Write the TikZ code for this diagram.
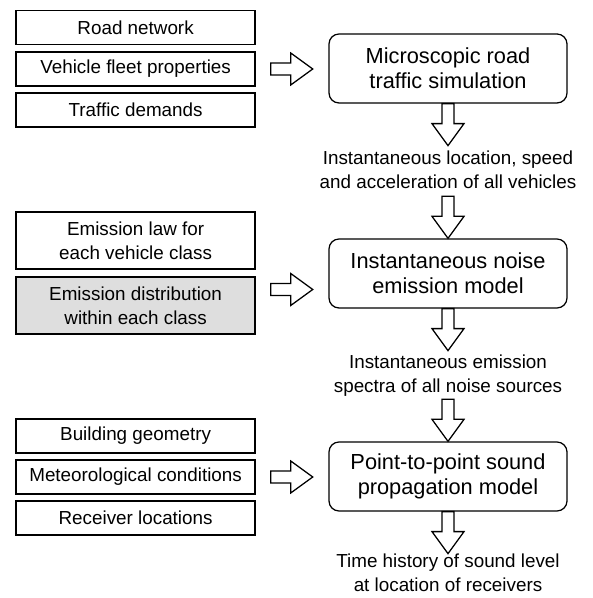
\documentclass[tikz,border=0pt]{standalone}
\usepackage{fontspec}
\setmainfont{Liberation Sans}
\usepackage{tikz}

\tikzset{
  inbox/.style={draw, line width=0.9pt, minimum width=5.975cm, minimum height=0.85cm, align=center, inner sep=2pt},
  tallbox/.style={inbox, minimum height=1.425cm},
  modelbox/.style={draw, line width=0.9pt, rounded corners=0.25cm, minimum width=5.95cm, minimum height=1.725cm, align=center, font=\fontsize{15.5}{17.5}\selectfont},
  result/.style={align=center, inner sep=0pt},
  blockarrow/.pic={
    \draw[line width=0.9pt, fill=white] (-0.15,0) -- (-0.15,-0.5) -- (-0.4,-0.5) -- (0,-1.05)
      -- (0.4,-0.5) -- (0.15,-0.5) -- (0.15,0) -- cycle;
  }
}

\begin{document}
\begin{tikzpicture}[font=\fontsize{13.4}{17}\selectfont]
                \useasboundingbox (0,0) rectangle (14.8,14.95);

                % First stage inputs
                \node[inbox] (road) at (3.39,14.26) {Road network};
                \node[inbox] (fleet) at (3.39,13.225) {Vehicle fleet properties};
                \node[inbox] (demand) at (3.39,12.2) {Traffic demands};

                % Traffic simulation
                \node[modelbox] (sim) at (11.2,13.2375) {Microscopic road\\traffic simulation};
                \node[result] (kinematics) at (11.2,10.7) {Instantaneous location, speed\\and acceleration of all vehicles};

                % Second stage inputs
                \node[tallbox] (law) at (3.39,8.94) {Emission law for\\each vehicle class};
                \node[tallbox, fill=black!13] (distrib) at (3.39,7.31) {Emission distribution\\within each class};

                % Noise emission
                \node[modelbox] (emis) at (11.2,8.1125) {Instantaneous noise\\emission model};
                \node[result] (spectra) at (11.2,5.55) {Instantaneous emission\\spectra of all noise sources};

                % Third stage inputs
                \node[inbox] (building) at (3.39,4.05) {Building geometry};
                \node[inbox] (meteo) at (3.39,3.025) {Meteorological conditions};
                \node[inbox] (receiver) at (3.39,2.0) {Receiver locations};

                % Sound propagation
                \node[modelbox] (prop) at (11.2,3.0375) {Point-to-point sound\\propagation model};
                \node[result] (history) at (11.2,0.62) {Time history of sound level\\at location of receivers};

                % Arrows into the models
                \pic[rotate=90] at ([xshift=0.375cm]fleet.east) {blockarrow};
                \pic[rotate=90] at ([xshift=0.375cm,yshift=-0.4cm]law.east |- emis.west) {blockarrow};
                \pic[rotate=90] at ([xshift=0.375cm]meteo.east) {blockarrow};

                % Arrows down the chain
                \pic at (sim.south) {blockarrow};
                \pic at ([yshift=1.05cm]emis.north) {blockarrow};
                \pic at (emis.south) {blockarrow};
                \pic at ([yshift=1.05cm]prop.north) {blockarrow};
                \pic at (prop.south) {blockarrow};

            \end{tikzpicture}
\end{document}
